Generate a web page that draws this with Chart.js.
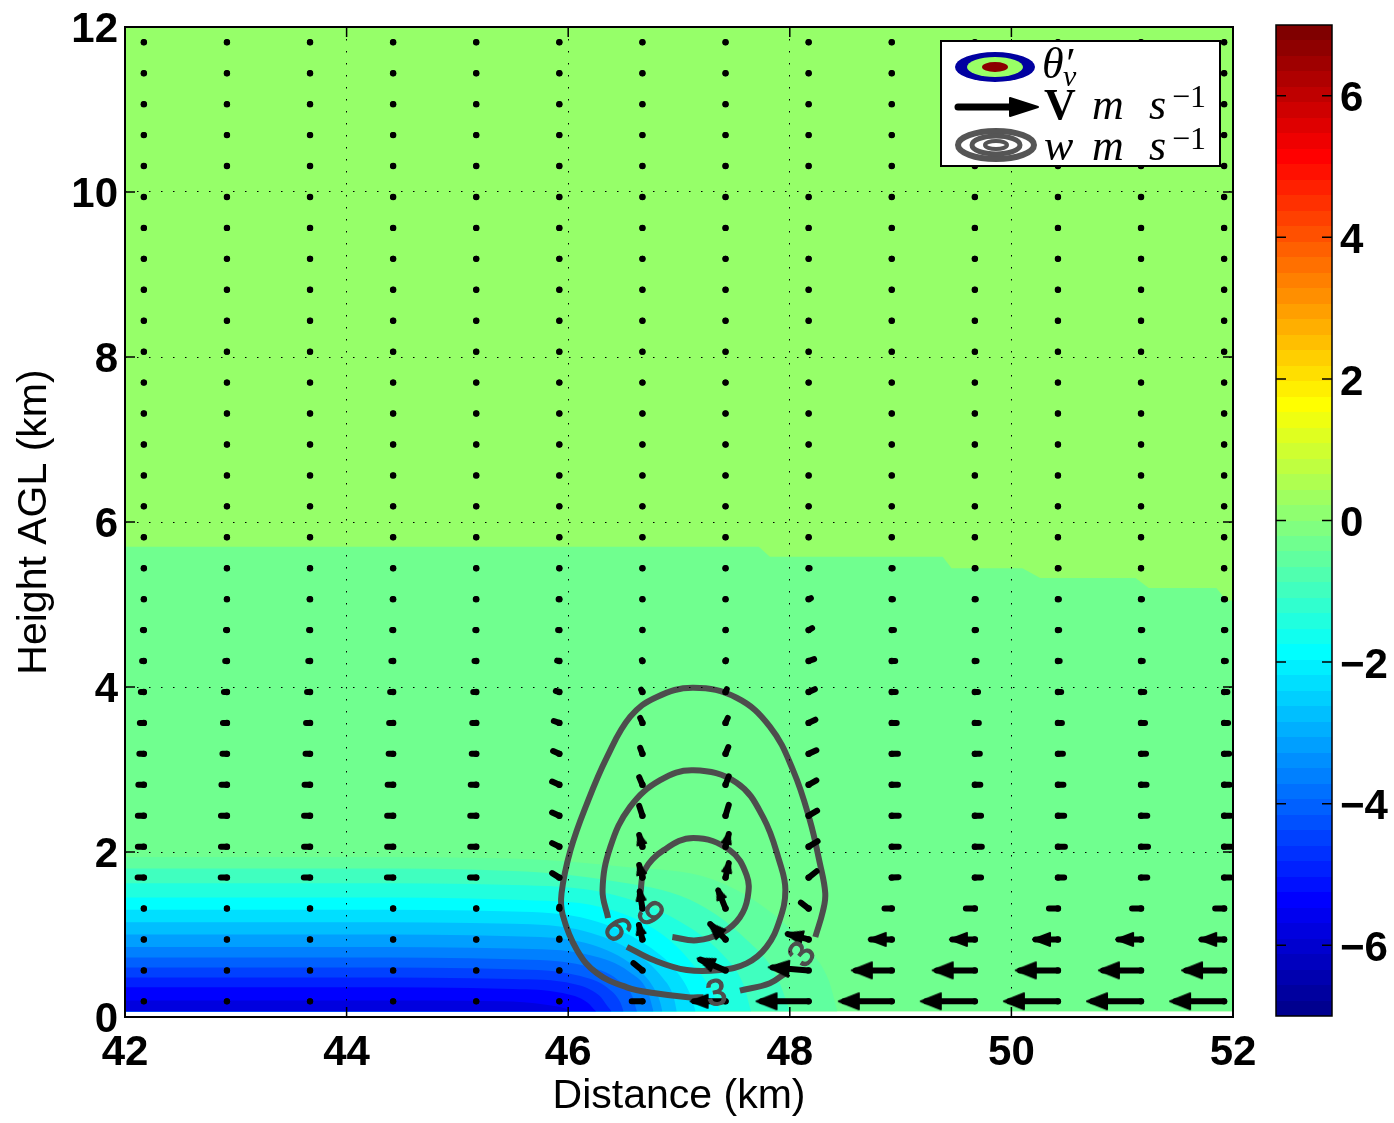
<!DOCTYPE html>
<html>
<head>
<meta charset="utf-8">
<script src="https://cdn.jsdelivr.net/npm/chart.js@4.4.1/dist/chart.umd.min.js"></script>
<style>
  html, body { margin: 0; padding: 0; background: #fff; }
  #wrap { position: relative; width: 1394px; height: 1123px; }
  #main { position: absolute; left: 0; top: 0; }
  #cbar { position: absolute; left: 1250px; top: 0; }
  #legend { position: absolute; left: 940px; top: 40px; width: 277px; height: 123px;
            border: 2px solid #000; background: #fff;
            font-family: 'Liberation Serif', 'DejaVu Serif', serif; color: #000; }
  #legend svg { position: absolute; left: 0; top: 0; }
  #legend span { position: absolute; white-space: nowrap; line-height: 1; }
  .big { font-size: 44px; }
  .sub { font-size: 30px; }
  .sup { font-size: 32px; }
  .it { font-style: italic; }
</style>
</head>
<body>
<div id="wrap">
  <canvas id="main" width="1394" height="1123"></canvas>
  <canvas id="cbar" width="144" height="1123"></canvas>
  <div id="legend">
    <svg width="277" height="123">
      <ellipse cx="53" cy="25" rx="40" ry="15" fill="#0000a0"/>
      <ellipse cx="53" cy="25" rx="28" ry="10" fill="#99ff66"/>
      <ellipse cx="53" cy="25" rx="13" ry="5" fill="#8b0000"/>
      <line x1="16" y1="65" x2="74" y2="65" stroke="#000" stroke-width="7" stroke-linecap="round"/>
      <polygon points="68,56 96,65 68,74" fill="#000" stroke="#000" stroke-width="2" stroke-linejoin="round"/>
      <ellipse cx="54" cy="103" rx="38" ry="14" fill="none" stroke="#555" stroke-width="6"/>
      <ellipse cx="54" cy="103" rx="24" ry="9" fill="none" stroke="#555" stroke-width="5"/>
      <ellipse cx="54" cy="103" rx="11" ry="4" fill="none" stroke="#555" stroke-width="4"/>
    </svg>
    <span class="big it" style="left:100px; top:0px;">θ′</span>
    <span class="sub it" style="left:121px; top:19px;">v</span>
    <span class="big" style="left:102px; top:41px; font-weight:bold;">V</span>
    <span class="big it" style="left:150px; top:41px;">m</span>
    <span class="big it" style="left:207px; top:41px;">s</span>
    <span class="sup" style="left:230px; top:38px;">−1</span>
    <span class="big it" style="left:102px; top:82px;">w</span>
    <span class="big it" style="left:150px; top:82px;">m</span>
    <span class="big it" style="left:207px; top:82px;">s</span>
    <span class="sup" style="left:230px; top:80px;">−1</span>
  </div>
</div>
<script>
// ---- grid of the wind vectors (km) ----
const xCols = [42.17, 42.92, 43.67, 44.42, 45.17, 45.92, 46.67, 47.42, 48.17, 48.92, 49.67, 50.42, 51.17, 51.92];
const zRows = [0.19, 0.565, 0.94, 1.315, 1.69, 2.065, 2.44, 2.815, 3.19, 3.565, 3.94, 4.315, 4.69, 5.065, 5.44, 5.815,
               6.19, 6.565, 6.94, 7.315, 7.69, 8.065, 8.44, 8.815, 9.19, 9.565, 9.94, 10.315, 10.69, 11.065, 11.44, 11.815];

// horizontal wind u (m/s), one row per height
const uRows = [
  [0, 0, 0, 0, 0, 0, -4.3, -12.6, -18.8, -19.1, -19.5, -19.5, -19.5, -19.5],
  [0, 0, 0, 0, 0, 0, -3.6, -10.1, -14.4, -14.4, -15.2, -15.2, -15.2, -15.2],
  [0, 0, 0, 0, 0, 0, -1.4, -6.1, -8.3, -8.3, -9.0, -9.0, -9.0, -9.0],
  [0, 0, 0, 0, 0, 0, -1.1, -2.9, -3.1, -2.9, -3.6, -3.6, -3.6, -3.6],
  [-2.5, -2.5, -2.5, -2.5, -2.5, -2.9, -1.3, 1.3, 3.2, 2.7, 2.5, 2.5, 2.5, 2.5],
  [-2.4, -2.4, -2.4, -2.4, -2.4, -2.9, -1.3, 1.3, 3.6, 2.8, 2.8, 2.8, 2.8, 2.8],
  [-2.4, -2.4, -2.4, -2.4, -2.4, -2.9, -1.3, 1.3, 3.4, 2.8, 2.5, 2.5, 2.5, 2.5],
  [-2.2, -2.2, -2.2, -2.2, -2.2, -2.9, -1.3, 1.3, 3.1, 2.5, 2.2, 2.2, 2.2, 2.2],
  [-1.8, -1.8, -1.8, -1.8, -1.8, -2.5, -0.9, 1.1, 3.1, 2.5, 2.0, 2.0, 2.0, 2.0],
  [-1.6, -1.6, -1.6, -1.6, -1.6, -2.2, -0.9, 0.9, 2.7, 2.0, 1.6, 1.6, 1.6, 1.6],
  [-1.2, -1.2, -1.2, -1.2, -1.2, -1.4, -0.5, 0.5, 2.5, 1.6, 1.3, 1.3, 1.3, 1.3],
  [-0.7, -0.7, -0.7, -0.7, -0.7, -0.9, -0.2, 0.2, 2.2, 1.4, 0.7, 0.7, 0.7, 0.7],
  [-0.4, -0.4, -0.4, -0.4, -0.4, -0.5, 0, 0.1, 1.4, 0.9, 0.5, 0.5, 0.5, 0.5],
  [-0.2, -0.2, -0.2, -0.2, -0.2, -0.3, 0, 0, 0.9, 0.5, 0.4, 0.4, 0.4, 0.4],
  [0, 0, 0, 0, 0, 0, 0, 0, 0.4, 0.4, 0.3, 0.3, 0.3, 0.3],
  [0, 0, 0, 0, 0, 0, 0, 0, 0, 0, 0, 0, 0, 0],
  [0, 0, 0, 0, 0, 0, 0, 0, 0, 0, 0, 0, 0, 0],
  [0, 0, 0, 0, 0, 0, 0, 0, 0, 0, 0, 0, 0, 0],
  [0, 0, 0, 0, 0, 0, 0, 0, 0, 0, 0, 0, 0, 0],
  [0, 0, 0, 0, 0, 0, 0, 0, 0, 0, 0, 0, 0, 0],
  [0, 0, 0, 0, 0, 0, 0, 0, 0, 0, 0, 0, 0, 0],
  [0, 0, 0, 0, 0, 0, 0, 0, 0, 0, 0, 0, 0, 0],
  [0, 0, 0, 0, 0, 0, 0, 0, 0, 0, 0, 0, 0, 0],
  [0, 0, 0, 0, 0, 0, 0, 0, 0, 0, 0, 0, 0, 0],
  [0, 0, 0, 0, 0, 0, 0, 0, 0, 0, 0, 0, 0, 0],
  [0, 0, 0, 0, 0, 0, 0, 0, 0, 0, 0, 0, 0, 0],
  [0, 0, 0, 0, 0, 0, 0, 0, 0, 0, 0, 0, 0, 0],
  [0, 0, 0, 0, 0, 0, 0, 0, 0, 0, 0, 0, 0, 0],
  [0, 0, 0, 0, 0, 0, 0, 0, 0, 0, 0, 0, 0, 0],
  [0, 0, 0, 0, 0, 0, 0, 0, 0, 0, 0, 0, 0, 0],
  [0, 0, 0, 0, 0, 0, 0, 0, 0, 0, 0, 0, 0, 0],
  [0, 0, 0, 0, 0, 0, 0, 0, 0, 0, 0, 0, 0, 0]
];

// vertical wind w (m/s), one row per height
const wRows = [
  [0, 0, 0, 0, 0, 0, 0, 0, 0, 0, 0, 0, 0, 0],
  [0, 0, 0, 0, 0, 0, 3.9, 5.8, 1.5, 0, 0, 0, 0, 0],
  [0, 0, 0, 0, 0, 0.5, 7.8, 8.2, 2.9, 0, 0, 0, 0, 0],
  [0, 0, 0, 0, 0, 1.0, 9.2, 9.7, 3.2, 0, 0, 0, 0, 0],
  [0, 0, 0, 0, 0, 2.4, 6.8, 7.8, 3.4, 0.2, 0, 0, 0, 0],
  [0, 0, 0, 0, 0, 1.9, 6.3, 6.8, 2.9, 0, 0, 0, 0, 0],
  [0, 0, 0, 0, 0, 1.7, 5.3, 5.8, 2.7, 0, 0, 0, 0, 0],
  [0, 0, 0, 0, 0, 1.7, 4.1, 4.6, 2.4, 0, 0, 0, 0, 0],
  [0, 0, 0, 0, 0, 1.5, 3.2, 3.6, 1.9, 0, 0, 0, 0, 0],
  [0, 0, 0, 0, 0, 1.0, 2.7, 2.7, 1.7, 0, 0, 0, 0, 0],
  [0, 0, 0, 0, 0, 0.5, 1.2, 1.5, 1.5, 0, 0, 0, 0, 0],
  [0, 0, 0, 0, 0, 0.2, 0.5, 0.5, 1.0, 0, 0, 0, 0, 0],
  [0, 0, 0, 0, 0, 0, 0.2, 0.2, 1.0, 0, 0, 0, 0, 0],
  [0, 0, 0, 0, 0, 0, 0, 0, 0.5, 0, 0, 0, 0, 0],
  [0, 0, 0, 0, 0, 0, 0, 0, 0, 0, 0, 0, 0, 0],
  [0, 0, 0, 0, 0, 0, 0, 0, 0, 0, 0, 0, 0, 0],
  [0, 0, 0, 0, 0, 0, 0, 0, 0, 0, 0, 0, 0, 0],
  [0, 0, 0, 0, 0, 0, 0, 0, 0, 0, 0, 0, 0, 0],
  [0, 0, 0, 0, 0, 0, 0, 0, 0, 0, 0, 0, 0, 0],
  [0, 0, 0, 0, 0, 0, 0, 0, 0, 0, 0, 0, 0, 0],
  [0, 0, 0, 0, 0, 0, 0, 0, 0, 0, 0, 0, 0, 0],
  [0, 0, 0, 0, 0, 0, 0, 0, 0, 0, 0, 0, 0, 0],
  [0, 0, 0, 0, 0, 0, 0, 0, 0, 0, 0, 0, 0, 0],
  [0, 0, 0, 0, 0, 0, 0, 0, 0, 0, 0, 0, 0, 0],
  [0, 0, 0, 0, 0, 0, 0, 0, 0, 0, 0, 0, 0, 0],
  [0, 0, 0, 0, 0, 0, 0, 0, 0, 0, 0, 0, 0, 0],
  [0, 0, 0, 0, 0, 0, 0, 0, 0, 0, 0, 0, 0, 0],
  [0, 0, 0, 0, 0, 0, 0, 0, 0, 0, 0, 0, 0, 0],
  [0, 0, 0, 0, 0, 0, 0, 0, 0, 0, 0, 0, 0, 0],
  [0, 0, 0, 0, 0, 0, 0, 0, 0, 0, 0, 0, 0, 0],
  [0, 0, 0, 0, 0, 0, 0, 0, 0, 0, 0, 0, 0, 0],
  [0, 0, 0, 0, 0, 0, 0, 0, 0, 0, 0, 0, 0, 0]
];

// ---- theta_v' filled contours: boundary of the warm/cool layer ----
const layerX = [42, 47.72, 47.82, 49.38, 49.46, 50.1, 50.26, 51.12, 51.24, 51.85, 51.94, 52];
const layerY = [5.70, 5.70, 5.58, 5.58, 5.44, 5.44, 5.32, 5.32, 5.20, 5.20, 5.05, 5.05];

// cold pool: jet(64) colour row of each band and its upper boundary
const coldRows = [30, 28, 26, 24, 22, 20, 18, 16, 14, 12, 10, 8, 6];
const coldX = [
  [42, 44, 45.5, 46.5, 47.3, 47.85, 48.15, 48.35, 48.43],
  [42, 44, 45.5, 46.4, 47.1, 47.6, 47.88, 48.0],
  [42, 44, 45.5, 46.35, 46.95, 47.4, 47.58, 47.65],
  [42, 44, 45.5, 46.3, 46.85, 47.15, 47.3, 47.37],
  [42, 44, 45.5, 46.2, 46.7, 46.98, 47.1, 47.15],
  [42, 44, 45.5, 46.15, 46.6, 46.85, 46.95, 46.98],
  [42, 44, 45.5, 46.15, 46.55, 46.76, 46.83, 46.85],
  [42, 44, 45.5, 46.2, 46.55, 46.72, 46.77],
  [42, 44, 45.5, 46.15, 46.45, 46.58, 46.62],
  [42, 44, 45.5, 46.1, 46.36, 46.47, 46.5],
  [42, 44, 45.5, 46.05, 46.28, 46.36, 46.39],
  [42, 44, 45.5, 45.95, 46.17, 46.25],
  [42, 44, 45.4, 45.8, 45.98, 46.02]
];
const coldY = [
  [1.94, 1.94, 1.92, 1.82, 1.67, 1.25, 0.85, 0.45, 0.07],
  [1.80, 1.80, 1.77, 1.65, 1.42, 0.95, 0.50, 0.07],
  [1.62, 1.62, 1.60, 1.50, 1.20, 0.75, 0.40, 0.07],
  [1.45, 1.45, 1.42, 1.33, 1.00, 0.60, 0.30, 0.07],
  [1.30, 1.30, 1.28, 1.18, 0.88, 0.55, 0.28, 0.07],
  [1.15, 1.15, 1.13, 1.04, 0.78, 0.48, 0.25, 0.07],
  [1.00, 1.00, 0.98, 0.90, 0.66, 0.38, 0.18, 0.07],
  [0.85, 0.85, 0.83, 0.75, 0.55, 0.30, 0.07],
  [0.72, 0.72, 0.70, 0.62, 0.45, 0.25, 0.07],
  [0.60, 0.60, 0.58, 0.50, 0.35, 0.18, 0.07],
  [0.48, 0.48, 0.46, 0.40, 0.26, 0.12, 0.07],
  [0.36, 0.36, 0.34, 0.29, 0.18, 0.07],
  [0.20, 0.20, 0.19, 0.15, 0.10, 0.07]
];

// ---- w contours (m/s); null = gap left for the label ----
const w3X = [47.22, 47.08, 46.77, 46.53, 46.26, 46.08, 45.95, 45.94, 46.02, 46.17, 46.35, 46.56, 46.80, 47.13,
             47.52, 47.82, 48.03, 48.18, 48.27, 48.32, 48.30, 48.23, null, 47.98, 47.82, 47.55];
const w3Y = [0.24, 0.24, 0.29, 0.36, 0.53, 0.81, 1.24, 1.50, 2.02, 2.59, 3.15, 3.64, 3.88, 3.99,
             3.87, 3.52, 2.99, 2.39, 1.87, 1.50, 1.29, 0.97, null, 0.55, 0.41, 0.32];
const w6X = [46.36, 46.31, 46.38, 46.56, 46.83, 47.13, 47.52, 47.76, 47.91, 47.96, 47.91, 47.79, 47.61, 47.37, 47.07, 46.77, 46.53];
const w6Y = [1.20, 1.54, 2.06, 2.55, 2.87, 2.99, 2.84, 2.42, 1.87, 1.54, 1.18, 0.85, 0.65, 0.57, 0.57, 0.69, 0.85];
const w9X = [46.65, 46.69, 46.86, 47.13, 47.46, 47.61, 47.62, 47.55, 47.40, 47.16, 46.94];
const w9Y = [1.48, 1.78, 2.02, 2.17, 2.02, 1.72, 1.45, 1.21, 1.03, 0.93, 0.97];

const labelX = [47.34, 48.12, 46.43, 46.73];
const labelY = [0.27, 0.75, 1.05, 1.24];
const labelText = ['3', '3', '6', '9'];
const labelAngle = [-9, -52, 57, 53];

// colour bar
const cMin = -7, cMax = 7;
const cTicks = [-6, -4, -2, 0, 2, 4, 6];

const ARROW_SCALE = 0.025; // km of arrow per m/s
const SHAFT_END = 0.9;

function jet(k) { // MATLAB jet(64), row k = 1..64
  const c = v => Math.round(255 * Math.max(0, Math.min(1, v)));
  const r = Math.min((k - 24) / 16, (72 - k) / 16);
  const g = Math.min((k - 8) / 16, (56 - k) / 16);
  const b = Math.min((k + 8) / 16, (40 - k) / 16);
  return 'rgb(' + c(r) + ',' + c(g) + ',' + c(b) + ')';
}

function makeHead(len, half) { // arrow head pointing up, tip at the image centre
  const cv = document.createElement('canvas');
  cv.width = 2 * half + 6;
  cv.height = 2 * len + 6;
  const c = cv.getContext('2d');
  const cx = cv.width / 2, cy = cv.height / 2;
  c.fillStyle = '#000';
  c.strokeStyle = '#000';
  c.lineWidth = 2;
  c.lineJoin = 'round';
  c.beginPath();
  c.moveTo(cx, cy);
  c.lineTo(cx + half, cy + len);
  c.lineTo(cx - half, cy + len);
  c.closePath();
  c.fill();
  c.stroke();
  return cv;
}
const headBig = makeHead(20, 8);
const headMid = makeHead(17, 6.5);
const headSmall = makeHead(11, 4.5);

Chart.defaults.font.family = "'Liberation Sans', Arial, sans-serif";
Chart.defaults.color = '#000';

const shaft = [], heads = [];
zRows.forEach((z, r) => {
  xCols.forEach((x, c) => {
    const u = uRows[r][c], w = wRows[r][c];
    shaft.push({x: x, y: z},
               {x: x + SHAFT_END * u * ARROW_SCALE, y: z + SHAFT_END * w * ARROW_SCALE},
               {x: x, y: null});
    heads.push({x: x + u * ARROW_SCALE, y: z + w * ARROW_SCALE, x0: x, y0: z, u: u, w: w});
  });
});

function headVec(ctx) {
  const d = ctx.raw, xs = ctx.chart.scales.x, ys = ctx.chart.scales.y;
  const dx = xs.getPixelForValue(d.x0 + d.u * ARROW_SCALE) - xs.getPixelForValue(d.x0);
  const dy = ys.getPixelForValue(d.y0 + d.w * ARROW_SCALE) - ys.getPixelForValue(d.y0);
  return {dx: dx, dy: dy, len: Math.hypot(dx, dy)};
}

const pts = (xs, ys) => xs.map((x, i) => ({x: x, y: ys[i]}));
const noLine = 'rgba(0,0,0,0)';

const datasets = [];
datasets.push({data: [{x: 42, y: 12}, {x: 52, y: 12}], backgroundColor: 'rgb(150,255,105)', borderColor: noLine,
               borderWidth: 0, pointRadius: 0, fill: {value: 0.07}, order: 100});
datasets.push({data: pts(layerX, layerY), backgroundColor: jet(31), borderColor: noLine,
               borderWidth: 0, pointRadius: 0, tension: 0, fill: {value: 0.07}, order: 99});
coldRows.forEach((k, i) => {
  datasets.push({data: pts(coldX[i], coldY[i]), backgroundColor: jet(k), borderColor: noLine,
                 borderWidth: 0, pointRadius: 0, cubicInterpolationMode: 'monotone',
                 fill: {value: 0.07}, order: 98 - i});
});
[[w3X, w3Y], [w6X, w6Y], [w9X, w9Y]].forEach(c => {
  datasets.push({data: pts(c[0], c[1]), borderColor: '#4d4d4d', borderWidth: 6, tension: 0.4,
                 pointRadius: 0, fill: false, order: 1});
});
datasets.push({data: shaft, borderColor: '#000', borderWidth: 6, borderCapStyle: 'round',
               borderJoinStyle: 'round', tension: 0, fill: false, order: 0,
               pointRadius: ctx => ctx.dataIndex % 3 === 0 ? 3.2 : 0,
               pointBackgroundColor: '#000', pointBorderWidth: 0});
datasets.push({data: heads, showLine: false, order: 0,
               pointStyle: ctx => { const h = headVec(ctx); return h.len >= 38 ? headBig : h.len >= 22 ? headMid : headSmall; },
               pointRadius: ctx => headVec(ctx).len >= 13 ? 5 : 0,
               pointRotation: ctx => { const h = headVec(ctx); return Math.atan2(h.dx, -h.dy) * 180 / Math.PI; }});

const framePlugin = {
  id: 'frame',
  afterDraw(chart, args, opts) {
    const {ctx, chartArea: a} = chart;
    const L = 10;
    ctx.save();
    ctx.setLineDash([]);
    ctx.strokeStyle = '#000';
    ctx.lineWidth = opts.tickWidth;
    (opts.axes || []).forEach(id => {
      const s = chart.scales[id];
      s.ticks.forEach(t => {
        const p = s.getPixelForValue(t.value);
        ctx.beginPath();
        if (s.isHorizontal()) {
          ctx.moveTo(p, a.bottom); ctx.lineTo(p, a.bottom - L);
          ctx.moveTo(p, a.top); ctx.lineTo(p, a.top + L);
        } else {
          ctx.moveTo(a.left, p); ctx.lineTo(a.left + L, p);
          ctx.moveTo(a.right, p); ctx.lineTo(a.right - L, p);
        }
        ctx.stroke();
      });
    });
    ctx.lineWidth = opts.width;
    ctx.strokeRect(a.left, a.top, a.right - a.left, a.bottom - a.top);
    ctx.restore();
  }
};

const labelPlugin = {
  id: 'clabels',
  afterDatasetsDraw(chart) {
    const {ctx, scales: {x, y}} = chart;
    ctx.save();
    ctx.fillStyle = '#4d4d4d';
    ctx.strokeStyle = '#4d4d4d';
    ctx.lineWidth = 1.2;
    ctx.font = "37px 'Liberation Sans', Arial, sans-serif";
    ctx.textAlign = 'center';
    ctx.textBaseline = 'middle';
    labelText.forEach((t, i) => {
      ctx.save();
      ctx.translate(x.getPixelForValue(labelX[i]), y.getPixelForValue(labelY[i]));
      ctx.rotate(labelAngle[i] * Math.PI / 180);
      ctx.fillText(t, 0, 0);
      ctx.strokeText(t, 0, 0);
      ctx.restore();
    });
    ctx.restore();
  }
};

new Chart(document.getElementById('main'), {
  type: 'line',
  data: {datasets: datasets},
  plugins: [labelPlugin, framePlugin],
  options: {
    responsive: false,
    animation: false,
    events: [],
    layout: {padding: {left: 0, top: 27, right: 161, bottom: 0}},
    plugins: {
      legend: {display: false},
      tooltip: {enabled: false},
      frame: {width: 2, tickWidth: 1.5, axes: ['x', 'y']}
    },
    scales: {
      x: {
        type: 'linear', min: 42, max: 52,
        afterFit: s => { s.height = 106; },
        ticks: {stepSize: 2, padding: 11, maxRotation: 0, font: {size: 42, weight: 'bold'}, color: '#000'},
        grid: {color: '#000', lineWidth: 1, drawTicks: false, z: 1},
        border: {display: false, dash: [1.5, 10.5]},
        title: {display: true, text: 'Distance (km)', font: {size: 41}, color: '#000', padding: {top: 0, bottom: 2}}
      },
      y: {
        type: 'linear', min: 0, max: 12,
        afterFit: s => { s.width = 125; s.paddingTop = 0; s.paddingBottom = 0; },
        ticks: {stepSize: 2, padding: 7, labelOffset: 3, font: {size: 42, weight: 'bold'}, color: '#000'},
        grid: {color: '#000', lineWidth: 1, drawTicks: false, z: 1},
        border: {display: false, dash: [1.5, 10.5]},
        title: {display: true, text: 'Height AGL (km)', font: {size: 41}, color: '#000', padding: {top: 10, bottom: 0}}
      }
    }
  }
});

// ---- colour bar ----
new Chart(document.getElementById('cbar'), {
  type: 'bar',
  data: {
    labels: [''],
    datasets: [{
      data: [[cMin, cMax]],
      borderWidth: 0,
      barPercentage: 1,
      categoryPercentage: 1,
      backgroundColor: ctx => {
        const ch = ctx.chart, ys = ch.scales.y;
        if (!ch.chartArea || !ys) return jet(32);
        const g = ch.ctx.createLinearGradient(0, ys.getPixelForValue(cMin), 0, ys.getPixelForValue(cMax));
        for (let i = 0; i < 64; i++) {
          g.addColorStop(i / 64, jet(i + 1));
          g.addColorStop((i + 1) / 64, jet(i + 1));
        }
        return g;
      }
    }]
  },
  plugins: [framePlugin],
  options: {
    responsive: false,
    animation: false,
    events: [],
    layout: {padding: {left: 26, top: 25, right: 0, bottom: 107}},
    plugins: {
      legend: {display: false},
      tooltip: {enabled: false},
      frame: {width: 1.5, tickWidth: 1.5, axes: ['y']}
    },
    scales: {
      x: {display: false},
      y: {
        position: 'right', min: cMin, max: cMax,
        afterFit: s => { s.width = 62; s.paddingTop = 0; s.paddingBottom = 0; },
        afterBuildTicks: s => { s.ticks = cTicks.map(v => ({value: v})); },
        ticks: {padding: 8, labelOffset: 4, font: {size: 42, weight: 'bold'}, color: '#000',
                callback: v => v < 0 ? '\u2212' + Math.abs(v) : String(v)},
        grid: {display: false, drawTicks: false},
        border: {display: false}
      }
    }
  }
});
</script>
</body>
</html>
